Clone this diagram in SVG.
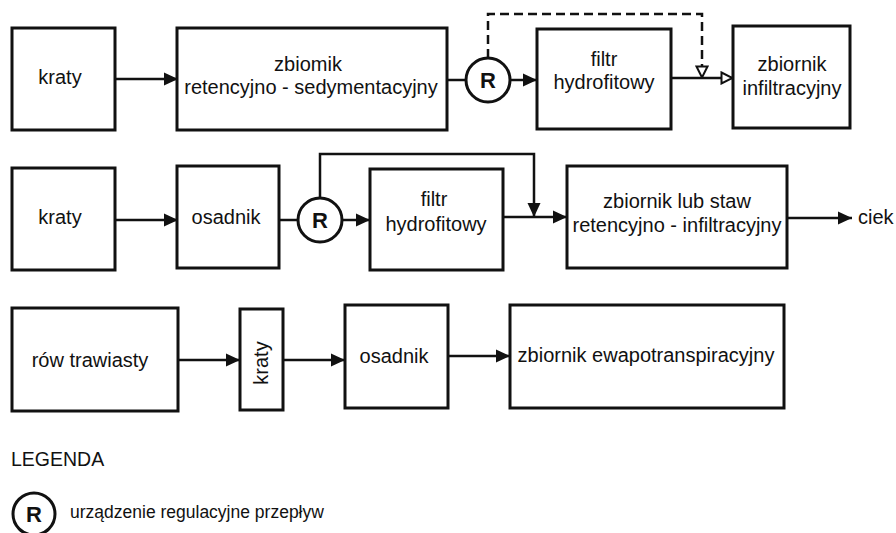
<svg xmlns="http://www.w3.org/2000/svg" width="896" height="533" viewBox="0 0 896 533">
<defs>
<style>
.box{fill:#fff;stroke:#111;stroke-width:3}
.ln{fill:none;stroke:#111;stroke-width:2.5}
.dash{fill:none;stroke:#111;stroke-width:2.5;stroke-dasharray:9,5}
.t{font-family:"Liberation Sans",Arial,sans-serif;font-size:20px;fill:#111;text-anchor:middle}
.r{font-family:"Liberation Sans",Arial,sans-serif;font-size:22px;font-weight:bold;fill:#111;text-anchor:middle}
.circ{fill:#fff;stroke:#111;stroke-width:3}
</style>
<marker id="af" viewBox="0 0 14 14" refX="14" refY="7" markerWidth="14" markerHeight="14" markerUnits="userSpaceOnUse" orient="auto"><path d="M0,0.5 L14,7 L0,13.5 Z" fill="#111"/></marker>
<marker id="ao" viewBox="0 0 14 14" refX="13" refY="7" markerWidth="14" markerHeight="14" markerUnits="userSpaceOnUse" orient="auto"><path d="M1.5,1.5 L12.5,7 L1.5,12.5 Z" fill="#fff" stroke="#111" stroke-width="2"/></marker>
</defs>
<rect width="896" height="533" fill="#fff"/>
<g id="connectors">
<line class="ln" x1="115" y1="79" x2="178" y2="79" marker-end="url(#af)"/>
<line class="ln" x1="447" y1="80" x2="466" y2="80"/>
<line class="ln" x1="511" y1="80" x2="537" y2="80" marker-end="url(#af)"/>
<line class="ln" x1="671" y1="78" x2="733" y2="78" marker-end="url(#ao)"/>
<path class="dash" d="M488,58 V14 H702 V78" marker-end="url(#ao)"/>
<line class="ln" x1="115" y1="220" x2="178" y2="220" marker-end="url(#af)"/>
<line class="ln" x1="279" y1="220" x2="298" y2="220"/>
<line class="ln" x1="343" y1="220" x2="370" y2="220" marker-end="url(#af)"/>
<path class="ln" d="M320,198 V154 H534 V217" marker-end="url(#af)"/>
<line class="ln" x1="503" y1="217" x2="567" y2="217" marker-end="url(#af)"/>
<line class="ln" x1="787" y1="218" x2="852" y2="218" marker-end="url(#af)"/>
<line class="ln" x1="178" y1="360" x2="240" y2="360" marker-end="url(#af)"/>
<line class="ln" x1="283" y1="360" x2="345" y2="360" marker-end="url(#af)"/>
<line class="ln" x1="448" y1="356" x2="510" y2="356" marker-end="url(#af)"/>
</g>
<g id="n1-kraty"><rect class="box" x="12" y="28" width="103" height="102"/><text class="t" x="60" y="84">kraty</text></g>
<g id="n1-zbiornik"><rect class="box" x="177" y="28" width="270" height="102"/><text class="t" x="308" y="71">zbiomik</text><text class="t" x="311" y="94">retencyjno - sedymentacyjny</text></g>
<g id="n1-R"><circle class="circ" cx="488" cy="80" r="22"/><text class="r" x="488" y="88">R</text></g>
<g id="n1-filtr"><rect class="box" x="537" y="29" width="134" height="100"/><text class="t" x="604" y="66">filtr</text><text class="t" x="604" y="89">hydrofitowy</text></g>
<g id="n1-infiltr"><rect class="box" x="733" y="26" width="117" height="102"/><text class="t" x="792" y="71">zbiornik</text><text class="t" x="792" y="95">infiltracyjny</text></g>
<g id="n2-kraty"><rect class="box" x="12" y="168" width="103" height="102"/><text class="t" x="60" y="224">kraty</text></g>
<g id="n2-osadnik"><rect class="box" x="177" y="166" width="102" height="102"/><text class="t" x="226" y="224">osadnik</text></g>
<g id="n2-R"><circle class="circ" cx="320" cy="220" r="22"/><text class="r" x="320" y="228">R</text></g>
<g id="n2-filtr"><rect class="box" x="370" y="169" width="133" height="101"/><text class="t" x="434" y="206">filtr</text><text class="t" x="436" y="231">hydrofitowy</text></g>
<g id="n2-staw"><rect class="box" x="567" y="166" width="220" height="102"/><text class="t" x="677" y="208">zbiornik lub staw</text><text class="t" x="677" y="232">retencyjno - infiltracyjny</text></g>
<g id="n2-ciek"><text class="t" x="858" y="224" style="text-anchor:start">ciek</text></g>
<g id="n3-row"><rect class="box" x="12" y="308" width="166" height="103"/><text class="t" x="90" y="367">rów trawiasty</text></g>
<g id="n3-kraty"><rect class="box" x="240" y="309" width="43" height="101"/><text class="t" transform="translate(268,363) rotate(-90)" x="0" y="0">kraty</text></g>
<g id="n3-osadnik"><rect class="box" x="345" y="305" width="103" height="103"/><text class="t" x="394" y="363">osadnik</text></g>
<g id="n3-ewapo"><rect class="box" x="510" y="305" width="274" height="103"/><text class="t" x="646" y="362">zbiornik ewapotranspiracyjny</text></g>
<g id="legend">
<text x="11" y="466" style="font-family:'Liberation Sans',Arial,sans-serif;font-size:19.5px;fill:#111">LEGENDA</text>
<circle class="circ" cx="34" cy="514" r="21"/><text class="r" x="34" y="522">R</text>
<text x="70" y="518" style="font-family:'Liberation Sans',Arial,sans-serif;font-size:17.5px;fill:#111">urządzenie regulacyjne przepływ</text>
</g>
</svg>
